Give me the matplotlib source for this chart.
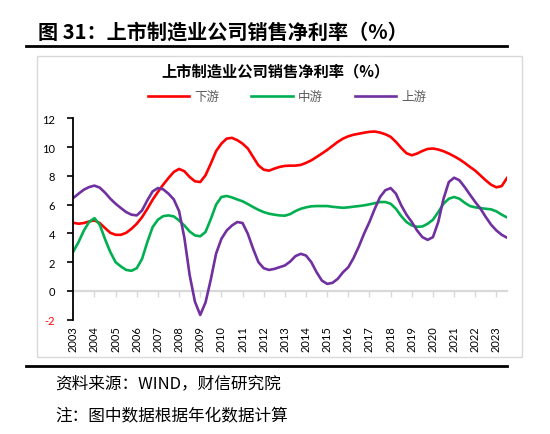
import numpy as np
import matplotlib
matplotlib.use('Agg')
import matplotlib.pyplot as plt
from matplotlib.patches import Rectangle
from matplotlib.lines import Line2D

# quarterly values, 2003Q1 .. 2023Q3 (annualized net margin, %)
downstream = [4.74, 4.67, 4.72, 4.83,
              4.90, 4.72, 4.37, 4.04,
              3.90, 3.90, 4.04, 4.32,
              4.67, 5.13, 5.71, 6.34,
              6.88, 7.39, 7.85, 8.27,
              8.48, 8.32, 7.92, 7.62,
              7.57, 8.04, 8.85, 9.72,
              10.24, 10.59, 10.64, 10.48,
              10.24, 9.90, 9.31, 8.73,
              8.43, 8.36, 8.50, 8.62,
              8.69, 8.71, 8.71, 8.76,
              8.90, 9.08, 9.31, 9.55,
              9.80, 10.08, 10.36, 10.59,
              10.75, 10.86, 10.93, 11.00,
              11.06, 11.08, 11.01, 10.89,
              10.71, 10.36, 9.94, 9.57,
              9.43, 9.55, 9.73, 9.87,
              9.90, 9.83, 9.71, 9.55,
              9.36, 9.15, 8.90, 8.62,
              8.36, 8.02, 7.68, 7.38,
              7.20, 7.29, 7.85]

midstream = [2.74, 3.40, 4.20, 4.80,
             5.06, 4.60, 3.60, 2.70,
             2.00, 1.70, 1.46, 1.40,
             1.58, 2.23, 3.40, 4.44,
             4.95, 5.20, 5.25, 5.18,
             4.90, 4.55, 4.13, 3.86,
             3.80, 4.10, 5.00, 6.00,
             6.53, 6.60, 6.50, 6.36,
             6.23, 6.04, 5.83, 5.64,
             5.48, 5.37, 5.30, 5.25,
             5.23, 5.34, 5.55, 5.71,
             5.81, 5.88, 5.90, 5.90,
             5.90, 5.85, 5.81, 5.78,
             5.81, 5.86, 5.90, 5.95,
             6.02, 6.10, 6.18, 6.18,
             6.06, 5.71, 5.20, 4.79,
             4.55, 4.46, 4.48, 4.67,
             4.95, 5.48, 6.06, 6.41,
             6.53, 6.41, 6.13, 5.90,
             5.81, 5.76, 5.71, 5.67,
             5.53, 5.30, 5.11]

upstream = [6.46, 6.76, 7.04, 7.22,
            7.32, 7.18, 6.83, 6.41,
            6.06, 5.76, 5.48, 5.30,
            5.25, 5.60, 6.30, 6.92,
            7.15, 7.06, 6.76, 6.36,
            5.55, 3.70, 1.10, -0.75,
            -1.67, -0.80, 0.80, 2.60,
            3.62, 4.20, 4.55, 4.79,
            4.72, 3.97, 2.93, 2.00,
            1.58, 1.46, 1.53, 1.65,
            1.77, 2.04, 2.42, 2.58,
            2.46, 2.00, 1.30, 0.72,
            0.49, 0.56, 0.84, 1.30,
            1.65, 2.30, 3.10, 4.00,
            4.80, 5.71, 6.53, 7.00,
            7.15, 6.76, 5.95, 5.30,
            4.79, 4.20, 3.74, 3.55,
            3.74, 4.79, 6.41, 7.57,
            7.87, 7.69, 7.22, 6.69,
            6.18, 5.71, 5.13, 4.60,
            4.20, 3.90, 3.70]

years = list(range(2003, 2024))
year_labels = [str(y) for y in years]
y_ticks = [-2, 0, 2, 4, 6, 8, 10, 12]
y_labels = ['-2', '0', '2', '4', '6', '8', '10', '12']

x = 2003 + np.arange(len(downstream)) / 4

plt.rcParams['font.family'] = ['Lato', 'Noto Sans CJK SC', 'DejaVu Sans']
cjk = ['Noto Sans CJK SC', 'DejaVu Sans']

W, H = 550, 435
fig = plt.figure(figsize=(W / 100, H / 100), dpi=100)

# axes box in pixels
left, right, top, bottom = 73.3, 507, 119.3, 320.7
ax = fig.add_axes([left / W, 1 - bottom / H, (right - left) / W, (bottom - top) / H])

l1, = ax.plot(x, downstream, color='#FF0000', lw=1.9, label='下游')
l2, = ax.plot(x, midstream, color='#00B050', lw=1.9, label='中游')
l3, = ax.plot(x, upstream, color='#7030A0', lw=1.9, label='上游')

ax.set_xlim(2003, x[-1])
ax.set_ylim(-2, 12)
ax.set_yticks(y_ticks)
ax.set_yticklabels(y_labels)
ax.get_yticklabels()[0].set_color('#FF0000')
ax.set_xticks(years)
ax.set_xticklabels(year_labels, rotation=90)

for s in ['top', 'right', 'bottom']:
    ax.spines[s].set_visible(False)
ax.spines['left'].set_linewidth(1.3)
ax.tick_params(axis='y', direction='out', length=4, width=1.2, pad=9, labelsize=8)
ax.tick_params(axis='x', length=0, pad=4, labelsize=8)

# gray zero line with small ticks
zero = ax.secondary_xaxis(2 / 14)
zero.set_xticks(years)
zero.tick_params(length=4, width=1, color='#d9d9d9', labelbottom=False)
zero.spines['bottom'].set_color('#d9d9d9')
zero.spines['bottom'].set_linewidth(1.6)

# chart frame and rules
fig.add_artist(Rectangle((37 / W, 1 - 358 / H), (522 - 37) / W, (358 - 57) / H,
                         transform=fig.transFigure, fill=False, ec='#d9d9d9', lw=1))
fig.add_artist(Line2D([26 / W, 507 / W], [1 - 47 / H] * 2, color='black', lw=2))
fig.add_artist(Line2D([26 / W, 507 / W], [1 - 367 / H] * 2, color='black', lw=2))

fig.text(38 / W, 1 - 32 / H, '图 31：上市制造业公司销售净利率（%）', fontsize=14.5,
         fontweight='bold', va='center', family=cjk)
fig.text(275 / W, 1 - 71 / H, '上市制造业公司销售净利率（%）', fontsize=11,
         fontweight='bold', ha='center', va='center', family=cjk)

fig.legend(handles=[l1, l2, l3], loc='center', bbox_to_anchor=(287 / W, 1 - 98 / H),
           ncol=3, frameon=False, prop={'family': cjk, 'size': 9}, labelcolor='#595959',
           handlelength=3.3, columnspacing=2.6, handletextpad=0.4)

fig.text(55 / W, 1 - 384 / H, '资料来源：WIND，财信研究院', fontsize=12, va='center', family=cjk)
fig.text(55 / W, 1 - 417 / H, '注：图中数据根据年化数据计算', fontsize=12, va='center', family=cjk)

fig.savefig('out.png', dpi=100)
